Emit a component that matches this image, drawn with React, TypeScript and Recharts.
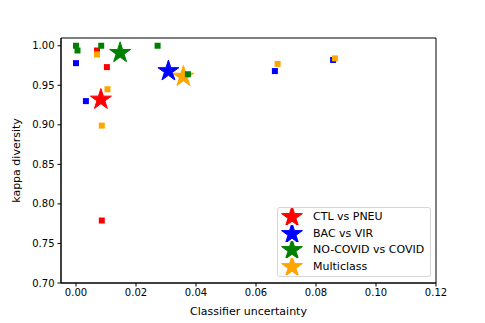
import React from 'react';
import { ScatterChart, Scatter, XAxis, YAxis, ReferenceArea, Legend } from 'recharts';

const seriesNames = ['CTL vs PNEU', 'BAC vs VIR', 'NO-COVID vs COVID', 'Multiclass'];
const seriesColors = ['#ff0000', '#0000ff', '#008000', '#ffa500'];

// individual runs (squares)
const ctlUncertainty = [0.007, 0.0103, 0.0086];
const ctlKappa = [0.994, 0.973, 0.779];
const bacUncertainty = [0.0, 0.0033, 0.0663, 0.0857];
const bacKappa = [0.978, 0.93, 0.968, 0.982];
const covidUncertainty = [0.0, 0.0005, 0.0084, 0.0272, 0.0373];
const covidKappa = [1.0, 0.994, 1.0, 1.0, 0.964];
const multiUncertainty = [0.007, 0.0105, 0.0086, 0.0672, 0.0863];
const multiKappa = [0.989, 0.945, 0.899, 0.977, 0.984];

// means (stars), same order as seriesNames
const meanUncertainty = [0.0083, 0.0308, 0.0147, 0.0358];
const meanKappa = [0.932, 0.968, 0.991, 0.961];

const xTicks = [0, 0.02, 0.04, 0.06, 0.08, 0.1, 0.12];
const yTicks = [0.7, 0.75, 0.8, 0.85, 0.9, 0.95, 1.0];
const xDomain = [-0.005, 0.12];
const yDomain = [0.7, 1.0098];

const toPoints = (xs: number[], ys: number[]) => xs.map((x, i) => ({ x, y: ys[i] }));
const squares = [
  toPoints(ctlUncertainty, ctlKappa),
  toPoints(bacUncertainty, bacKappa),
  toPoints(covidUncertainty, covidKappa),
  toPoints(multiUncertainty, multiKappa),
];
const stars = meanUncertainty.map((x, i) => [{ x, y: meanKappa[i] }]);

const starPath = (cx: number, cy: number, R: number) => {
  const r = R * 0.382;
  let d = '';
  for (let i = 0; i < 10; i++) {
    const a = ((-90 + i * 36) * Math.PI) / 180;
    const rad = i % 2 === 0 ? R : r;
    d += `${i === 0 ? 'M' : 'L'}${cx + rad * Math.cos(a)},${cy + rad * Math.sin(a)}`;
  }
  return d + 'Z';
};

const squareShape = (color: string) => (p: any) => (
  <rect x={p.cx - 3} y={p.cy - 3} width={6} height={6} fill={color} />
);
const starShape = (color: string) => (p: any) => (
  <path d={starPath(p.cx, p.cy, 11)} fill={color} stroke={color} strokeWidth={1} />
);

const LegendBox = () => (
  <div
    style={{
      width: 154,
      height: 70,
      boxSizing: 'border-box',
      border: '1px solid #d6d6d6',
      borderRadius: 3,
      background: 'rgba(255,255,255,0.8)',
      paddingTop: 0.5,
      fontSize: 11,
      fontFamily: 'DejaVu Sans',
      color: '#000',
    }}
  >
    {seriesNames.map((name, i) => (
      <div key={name} style={{ display: 'flex', alignItems: 'center', height: 16.6 }}>
        <svg width={28} height={17}>
          <path d={starPath(14, 9, 11)} fill={seriesColors[i]} stroke={seriesColors[i]} />
        </svg>
        <span style={{ marginLeft: 7, whiteSpace: 'nowrap' }}>{name}</span>
      </div>
    ))}
  </div>
);

export default function App() {
  const tickStyle = { fontSize: 10, fill: '#000', fontFamily: 'DejaVu Sans' };
  return (
    <div style={{ position: 'absolute', left: 0, top: 0, width: 485, height: 323, background: '#fff', fontFamily: 'DejaVu Sans' }}>
      <ScatterChart width={485} height={323} margin={{ top: 38, right: 49, bottom: 0, left: 0 }}>
        <XAxis
          type="number"
          dataKey="x"
          domain={xDomain}
          ticks={xTicks}
          allowDataOverflow
          height={40}
          tick={tickStyle}
          tickFormatter={(v: number) => v.toFixed(2)}
          tickSize={3.5}
          tickMargin={2}
          stroke="#000"
          label={{ value: 'Classifier uncertainty', position: 'insideBottom', offset: 8, fontSize: 11, fill: '#000' }}
        />
        <YAxis
          type="number"
          dataKey="y"
          domain={yDomain}
          ticks={yTicks}
          allowDataOverflow
          width={61}
          tick={tickStyle}
          tickFormatter={(v: number) => v.toFixed(2)}
          tickSize={3.5}
          tickMargin={3}
          stroke="#000"
          label={{ value: 'kappa diversity', angle: -90, position: 'insideLeft', offset: 16, fontSize: 11, fill: '#000', style: { textAnchor: 'middle' } }}
        />
        <ReferenceArea x1={xDomain[0]} x2={xDomain[1]} y1={yDomain[0]} y2={yDomain[1]} fill="none" stroke="#000" strokeOpacity={1} />
        {stars.map((d, i) => (
          <Scatter key={'star' + i} name={seriesNames[i]} data={d} fill={seriesColors[i]} shape={starShape(seriesColors[i])} isAnimationActive={false} />
        ))}
        {squares.map((d, i) => (
          <Scatter key={'sq' + i} data={d} fill={seriesColors[i]} shape={squareShape(seriesColors[i])} isAnimationActive={false} legendType="none" />
        ))}
        <Legend
          layout="vertical"
          align="center"
          verticalAlign="middle"
          wrapperStyle={{ position: 'absolute', left: 277, top: 207, width: 154, height: 70 }}
          content={() => <LegendBox />}
        />
      </ScatterChart>
    </div>
  );
}
